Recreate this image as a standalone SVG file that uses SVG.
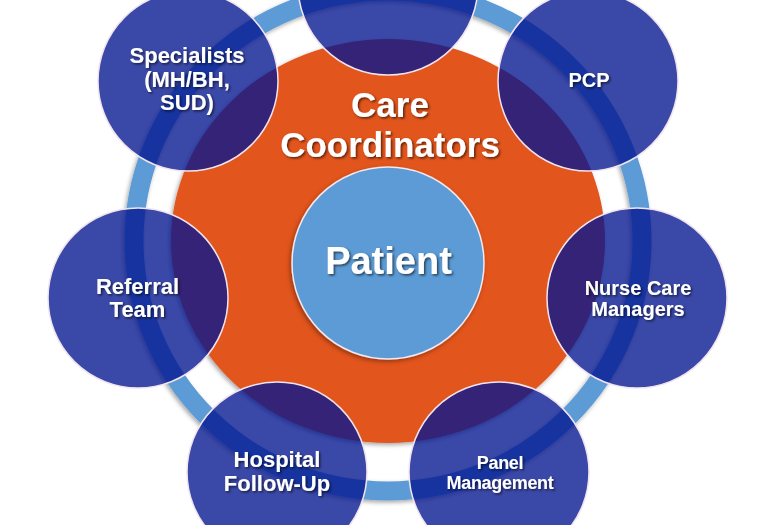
<svg xmlns="http://www.w3.org/2000/svg" width="768" height="525" viewBox="0 0 768 525">
  <defs>
    <filter id="sh" x="-20%" y="-20%" width="140%" height="140%">
      <feDropShadow dx="-1.5" dy="2" stdDeviation="2" flood-color="#000" flood-opacity="0.35"/>
    </filter>
    <filter id="tsh" x="-10%" y="-30%" width="120%" height="160%">
      <feDropShadow dx="1.5" dy="1.5" stdDeviation="1" flood-color="#000" flood-opacity="0.6"/>
    </filter>
  </defs>
  <style>
    .sat { fill: #03168F; fill-opacity: 0.78; stroke: #F2E4EE; stroke-width: 1.5; }
    .lbl { font-family: "Liberation Sans", Arial, sans-serif; font-weight: bold; fill: #FFFFFF; text-anchor: middle; filter: url(#tsh); }
    .s22 { font-size: 22px; }
    .s20 { font-size: 20px; }
    .s18 { font-size: 18px; letter-spacing: -0.3px; }
  </style>
  <rect width="768" height="525" fill="#FFFFFF"/>

  <g id="connectors">
    <ellipse id="ring" cx="388" cy="241" rx="254" ry="250" fill="none" stroke="#5B9BD5" stroke-width="19" filter="url(#sh)"/>
  </g>

  <g id="care-coordinators">
    <ellipse cx="388" cy="241" rx="217" ry="202" fill="#E2541F" filter="url(#sh)"/>
    <text class="lbl" x="390" y="117" font-size="35">Care</text>
    <text class="lbl" x="390" y="157" font-size="35">Coordinators</text>
  </g>

  <g id="patient">
    <circle cx="388" cy="263" r="96" fill="#5B9BD5" stroke="#F4E8EE" stroke-width="1.5" filter="url(#sh)"/>
    <text class="lbl" x="388.5" y="274" font-size="38">Patient</text>
  </g>

  <g id="top-node">
    <circle class="sat" cx="388" cy="-15" r="90"/>
  </g>

  <g id="pcp">
    <circle class="sat" cx="588" cy="81" r="90"/>
    <text class="lbl s20" x="589" y="87">PCP</text>
  </g>

  <g id="nurse-care-managers">
    <circle class="sat" cx="637" cy="298" r="90"/>
    <text class="lbl s20" x="638" y="295">Nurse Care</text>
    <text class="lbl s20" x="638" y="316">Managers</text>
  </g>

  <g id="panel-management">
    <circle class="sat" cx="499" cy="472" r="90"/>
    <text class="lbl s18" x="500" y="469">Panel</text>
    <text class="lbl s18" x="500" y="489">Management</text>
  </g>

  <g id="hospital-follow-up">
    <circle class="sat" cx="277" cy="472" r="90"/>
    <text class="lbl s22" x="277" y="467">Hospital</text>
    <text class="lbl s22" x="277" y="491">Follow-Up</text>
  </g>

  <g id="referral-team">
    <circle class="sat" cx="138" cy="298" r="90"/>
    <text class="lbl s22" x="137.5" y="294">Referral</text>
    <text class="lbl s22" x="137.5" y="317">Team</text>
  </g>

  <g id="specialists">
    <circle class="sat" cx="188" cy="81" r="90"/>
    <text class="lbl s22" x="187" y="63">Specialists</text>
    <text class="lbl s22" x="187" y="87">(MH/BH,</text>
    <text class="lbl s22" x="187" y="110">SUD)</text>
  </g>
</svg>
